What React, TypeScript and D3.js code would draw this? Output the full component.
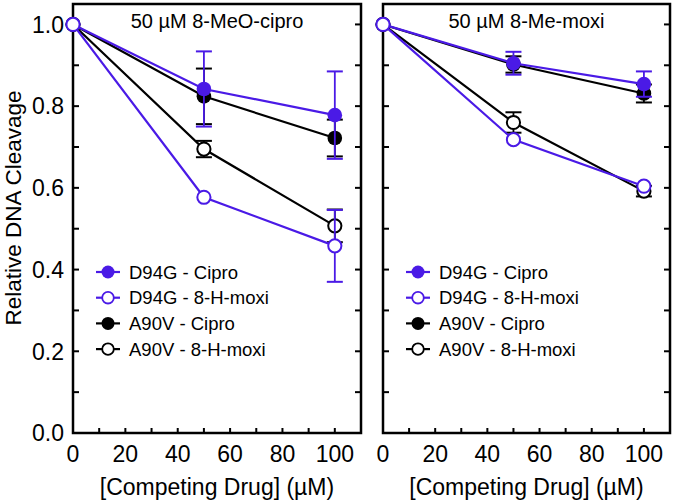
import React from "react";
import * as d3 from "d3";

const concentrations = [0, 50, 100];
const seriesNames = ["D94G - Cipro", "D94G - 8-H-moxi", "A90V - Cipro", "A90V - 8-H-moxi"];
const panelTitles = ["50 µM 8-MeO-cipro", "50 µM 8-Me-moxi"];
const yTickLabels = ["0.0", "0.2", "0.4", "0.6", "0.8", "1.0"];
const xTickLabels = ["0", "20", "40", "60", "80", "100"];

// Panel 1: 50 µM 8-MeO-cipro
const meoD94GCipro = [1.0, 0.842, 0.778];
const meoD94GCiproErr = [0, 0.092, 0.107];
const meoD94GHmoxi = [1.0, 0.577, 0.458];
const meoD94GHmoxiErr = [0, 0, 0.088];
const meoA90VCipro = [1.0, 0.824, 0.722];
const meoA90VCiproErr = [0, 0.068, 0.045];
const meoA90VHmoxi = [1.0, 0.695, 0.507];
const meoA90VHmoxiErr = [0, 0.02, 0.04];

// Panel 2: 50 µM 8-Me-moxi
const meD94GCipro = [1.0, 0.905, 0.854];
const meD94GCiproErr = [0, 0.028, 0.031];
const meD94GHmoxi = [1.0, 0.718, 0.604];
const meD94GHmoxiErr = [0, 0, 0];
const meA90VCipro = [1.0, 0.902, 0.831];
const meA90VCiproErr = [0, 0.02, 0.022];
const meA90VHmoxi = [1.0, 0.76, 0.592];
const meA90VHmoxiErr = [0, 0.025, 0.013];

const BLUE = "#4a1ae6";
const FONT = "'Liberation Sans', Arial, Helvetica, sans-serif";

type Series = { name: string; values: number[]; err: number[]; color: string; filled: boolean };

const panels: { title: string; series: Series[] }[] = [
  {
    title: panelTitles[0],
    series: [
      { name: seriesNames[0], values: meoD94GCipro, err: meoD94GCiproErr, color: BLUE, filled: true },
      { name: seriesNames[1], values: meoD94GHmoxi, err: meoD94GHmoxiErr, color: BLUE, filled: false },
      { name: seriesNames[2], values: meoA90VCipro, err: meoA90VCiproErr, color: "#000", filled: true },
      { name: seriesNames[3], values: meoA90VHmoxi, err: meoA90VHmoxiErr, color: "#000", filled: false },
    ],
  },
  {
    title: panelTitles[1],
    series: [
      { name: seriesNames[0], values: meD94GCipro, err: meD94GCiproErr, color: BLUE, filled: true },
      { name: seriesNames[1], values: meD94GHmoxi, err: meD94GHmoxiErr, color: BLUE, filled: false },
      { name: seriesNames[2], values: meA90VCipro, err: meA90VCiproErr, color: "#000", filled: true },
      { name: seriesNames[3], values: meA90VHmoxi, err: meA90VHmoxiErr, color: "#000", filled: false },
    ],
  },
];

const W = 675;
const H = 501;
const TOP = 4;
const BOTTOM = 433;
const panelX = [
  [73, 361],
  [383, 670],
];
const drawOrder = [2, 3, 0, 1];

function Panel({ index }: { index: number }) {
  const [x0, x1] = panelX[index];
  const panel = panels[index];
  const x = d3.scaleLinear().domain([0, 110]).range([x0, x1]);
  const y = d3.scaleLinear().domain([0, 1.05]).range([BOTTOM, TOP]);
  const line = d3
    .line<number>()
    .x((_, i) => x(concentrations[i]))
    .y((v) => y(v));
  const yMinor = d3.range(0, 11).map((i) => i / 10);
  const xMinor = d3.range(0, 12).map((i) => i * 10);
  const cx = (x0 + x1) / 2;
  return (
    <g>
      {yMinor.map((t) => (
        <g key={"y" + t}>
          <line x1={x0} x2={x0 + 6} y1={y(t)} y2={y(t)} stroke="#000" strokeWidth={2} />
          <line x1={x1} x2={x1 - 6} y1={y(t)} y2={y(t)} stroke="#000" strokeWidth={2} />
        </g>
      ))}
      {xMinor.map((t) => (
        <line key={"x" + t} x1={x(t)} x2={x(t)} y1={BOTTOM} y2={BOTTOM - 5} stroke="#000" strokeWidth={2} />
      ))}
      <rect x={x0} y={TOP} width={x1 - x0} height={BOTTOM - TOP} fill="none" stroke="#000" strokeWidth={2.5} />
      {index === 0 &&
        yTickLabels.map((l) => (
          <text key={l} x={x0 - 9} y={y(+l)} dy="0.36em" textAnchor="end" fontSize={23} fontFamily={FONT}>
            {l}
          </text>
        ))}
      {xTickLabels.map((l) => (
        <text key={l} x={x(+l)} y={462} textAnchor="middle" fontSize={23} fontFamily={FONT}>
          {l}
        </text>
      ))}
      <text x={cx} y={495} textAnchor="middle" fontSize={23} fontFamily={FONT}>
        [Competing Drug] (µM)
      </text>
      <text x={cx} y={28} textAnchor="middle" fontSize={20} fontFamily={FONT}>
        {panel.title}
      </text>
      {drawOrder.map((si) => {
        const s = panel.series[si];
        return (
          <g key={s.name}>
            {s.values.map((v, i) =>
              s.err[i] > 0 ? (
                <g key={i} stroke={s.color} strokeWidth={1.8}>
                  <line x1={x(concentrations[i])} x2={x(concentrations[i])} y1={y(v - s.err[i])} y2={y(v + s.err[i])} />
                  <line x1={x(concentrations[i]) - 8} x2={x(concentrations[i]) + 8} y1={y(v - s.err[i])} y2={y(v - s.err[i])} strokeWidth={2} />
                  <line x1={x(concentrations[i]) - 8} x2={x(concentrations[i]) + 8} y1={y(v + s.err[i])} y2={y(v + s.err[i])} strokeWidth={2} />
                </g>
              ) : null
            )}
            <path d={line(s.values) || ""} fill="none" stroke={s.color} strokeWidth={2.2} />
            {s.values.map((v, i) => (
              <circle
                key={i}
                cx={x(concentrations[i])}
                cy={y(v)}
                r={s.filled ? 7.3 : 6.6}
                fill={s.filled ? s.color : "#fff"}
                stroke={s.color}
                strokeWidth={s.filled ? 0 : 2}
              />
            ))}
          </g>
        );
      })}
      {panel.series.map((s, i) => {
        const ly = 272 + i * 25.7;
        return (
          <g key={"leg" + i}>
            <line x1={x0 + 23} x2={x0 + 47} y1={ly} y2={ly} stroke={s.color} strokeWidth={2.2} />
            <circle cx={x0 + 35} cy={ly} r={s.filled ? 6.5 : 5.8} fill={s.filled ? s.color : "#fff"} stroke={s.color} strokeWidth={s.filled ? 0 : 1.8} />
            <text x={x0 + 56} y={ly} dy="0.36em" fontSize={18.5} fontFamily={FONT}>
              {s.name}
            </text>
          </g>
        );
      })}
    </g>
  );
}

export default function App() {
  return (
    <svg width={W} height={H} style={{ position: "absolute", left: 0, top: 0, background: "#fff" }}>
      <rect x={0} y={0} width={W} height={H} fill="#fff" />
      <text transform={`translate(21, 208) rotate(-90)`} textAnchor="middle" fontSize={22.5} fontFamily={FONT}>
        Relative DNA Cleavage
      </text>
      <Panel index={0} />
      <Panel index={1} />
    </svg>
  );
}
